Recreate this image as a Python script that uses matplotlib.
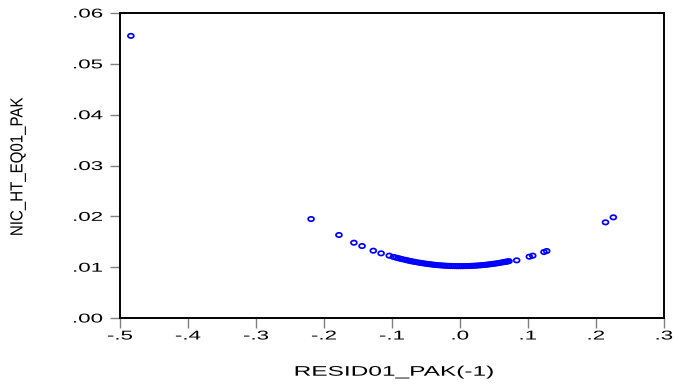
import matplotlib
matplotlib.use("Agg")
import matplotlib.pyplot as plt
from matplotlib.path import Path
from matplotlib.patheffects import AbstractPathEffect
from matplotlib.transforms import Affine2D
from matplotlib.ticker import FixedLocator, FuncFormatter
import numpy as np

# Lagged residual (x) and news-impact conditional variance (y)
resid_lag = [
    -0.484, -0.219, -0.178, -0.156, -0.144, -0.1275, -0.116, -0.104,
    -0.098, -0.094, -0.091, -0.088, -0.085, -0.081, -0.078, -0.075,
    -0.072, -0.069, -0.066, -0.062, -0.059, -0.056, -0.053, -0.050,
    -0.047, -0.044, -0.041, -0.038, -0.035, -0.032, -0.029, -0.026,
    -0.023, -0.020, -0.017, -0.014, -0.011, -0.008, -0.005, -0.002,
    0.001, 0.004, 0.007, 0.010, 0.013, 0.016, 0.019, 0.022,
    0.025, 0.028, 0.031, 0.034, 0.037, 0.040, 0.043, 0.046,
    0.049, 0.052, 0.055, 0.058, 0.061, 0.064, 0.066, 0.068,
    0.070, 0.072, 0.0834, 0.102, 0.107, 0.1235, 0.1275, 0.214, 0.2255,
]
nic_var = [
    0.0555, 0.01947, 0.01633, 0.01481, 0.01416, 0.01324, 0.01272, 0.01226,
    0.01202, 0.01188, 0.01177, 0.01167, 0.01157, 0.01145, 0.01136, 0.01127,
    0.01118, 0.01110, 0.01103, 0.01093, 0.01086, 0.01080, 0.01073, 0.01068,
    0.01062, 0.01057, 0.01052, 0.01047, 0.01043, 0.01039, 0.01036, 0.01033,
    0.01030, 0.01028, 0.01025, 0.01024, 0.01022, 0.01021, 0.01020, 0.01020,
    0.01020, 0.01020, 0.01021, 0.01022, 0.01023, 0.01025, 0.01027, 0.01029,
    0.01032, 0.01035, 0.01038, 0.01042, 0.01046, 0.01050, 0.01055, 0.01060,
    0.01066, 0.01071, 0.01077, 0.01084, 0.01091, 0.01098, 0.01103, 0.01108,
    0.01113, 0.01118, 0.01134, 0.01206, 0.01226, 0.01298, 0.01318, 0.01882, 0.01980,
]

x_ticks = [-0.5, -0.4, -0.3, -0.2, -0.1, 0.0, 0.1, 0.2, 0.3]
y_ticks = [0.00, 0.01, 0.02, 0.03, 0.04, 0.05, 0.06]
x_title = "RESID01_PAK(-1)"
y_title = "NIC_HT_EQ01_PAK"

FONT = ["Liberation Sans", "DejaVu Sans"]


class HStretch(AbstractPathEffect):
    """Draw text glyphs stretched along the text direction."""

    def __init__(self, sx, anchor="center"):
        super().__init__()
        self.sx = sx
        self.anchor = anchor

    def draw_path(self, renderer, gc, tpath, affine, rgbFace=None):
        ext = tpath.get_extents()
        if self.anchor == "right":
            ox = ext.x1
        elif self.anchor == "left":
            ox = ext.x0
        else:
            ox = 0.5 * (ext.x0 + ext.x1)
        stretch = Affine2D().translate(-ox, 0).scale(self.sx, 1).translate(ox, 0)
        renderer.draw_path(gc, tpath, stretch + affine, rgbFace)


def dot_fmt(digits):
    def f(v, pos):
        s = f"{v:.{digits}f}"
        if s.startswith("-0"):
            s = "-" + s[2:]
        elif s.startswith("0"):
            s = s[1:]
        return s
    return f


# Slightly wide open-ellipse marker
theta = np.linspace(0, 2 * np.pi, 40)
ellipse = Path(np.column_stack([1.35 * np.cos(theta), np.sin(theta)]))

fig = plt.figure(figsize=(6.79, 3.85), dpi=100)
ax = fig.add_axes([120 / 679, 1 - 318 / 385, 544 / 679, 305 / 385])

ax.scatter(resid_lag, nic_var, marker=ellipse, s=18, facecolors="none",
           edgecolors="#0000ff", linewidths=1.25, zorder=3)

ax.set_xlim(-0.5, 0.3)
ax.set_ylim(0.0, 0.06)
ax.xaxis.set_major_locator(FixedLocator(x_ticks))
ax.yaxis.set_major_locator(FixedLocator(y_ticks))
ax.xaxis.set_major_formatter(FuncFormatter(dot_fmt(1)))
ax.yaxis.set_major_formatter(FuncFormatter(dot_fmt(2)))

for sp in ax.spines.values():
    sp.set_color("black")
    sp.set_linewidth(1.4)

ax.tick_params(axis="both", direction="out", length=7.5, width=1.0,
               color="#808080", labelsize=9.2, labelcolor="black")
ax.tick_params(axis="x", pad=1.5)
ax.tick_params(axis="y", pad=5.0)

ax.set_xlabel(x_title, fontsize=10.0, family=FONT, va="baseline", ha="center")
ax.xaxis.set_label_coords((394 - 120) / 544, (318 - 375.7) / 305)
ax.set_ylabel(y_title, fontsize=12.6, family=FONT, va="center", ha="center",
              rotation=90, rotation_mode="anchor")
ax.yaxis.set_label_coords((18.0 - 120) / 544, (318 - 167) / 305)

fig.canvas.draw()
for lab in ax.get_xticklabels():
    lab.set_family(FONT)
    lab.set_path_effects([HStretch(1.75, "center")])
for lab in ax.get_yticklabels():
    lab.set_family(FONT)
    lab.set_path_effects([HStretch(1.75, "right")])
ax.xaxis.label.set_path_effects([HStretch(1.76, "center")])
ax.yaxis.label.set_path_effects([HStretch(0.86, "center")])

fig.savefig("out.png", dpi=100)
